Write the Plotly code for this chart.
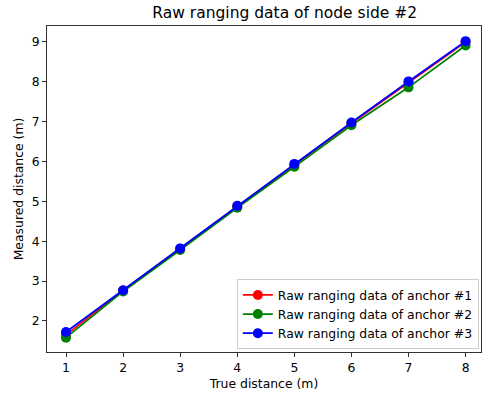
import plotly.graph_objects as go

true_dist = [1, 2, 3, 4, 5, 6, 7, 8]
anchor1 = [1.65, 2.76, 3.81, 4.87, 5.92, 6.96, 7.98, 9.00]
anchor2 = [1.58, 2.74, 3.78, 4.84, 5.87, 6.91, 7.86, 8.91]
anchor3 = [1.72, 2.77, 3.82, 4.89, 5.94, 6.98, 8.01, 9.02]
err1 = [0.02] * 8
err2 = [0.02] * 8
err3 = [0.02] * 8

series = [
    ("Raw ranging data of anchor #1", anchor1, err1, "#ff0000", "#0000ff"),
    ("Raw ranging data of anchor #2", anchor2, err2, "#008000", "#000000"),
    ("Raw ranging data of anchor #3", anchor3, err3, "#0000ff", "#ff0000"),
]

fig = go.Figure()
for name, vals, err, col, ecol in series:
    fig.add_trace(go.Scatter(
        x=true_dist, y=vals, name=name, mode="lines+markers",
        line=dict(color=col, width=1.8),
        marker=dict(color=col, size=10),
        error_y=dict(type="data", array=err, color=ecol, thickness=1.5, width=3),
    ))

font = "DejaVu Sans"
fs = 12.4
axis_common = dict(
    showgrid=False, zeroline=False, showline=True, linecolor="#333333", linewidth=1,
    mirror=True, ticks="outside", ticklen=4, tickcolor="#333333", automargin=False,
    tickfont=dict(family=font, size=fs, color="black"),
)
fig.update_layout(
    width=482, height=396,
    margin=dict(l=47, r=1, t=26, b=44, autoexpand=False),
    paper_bgcolor="white", plot_bgcolor="white",
    title=dict(text="Raw ranging data of node side #2", x=(47 + 481) / 2 / 482, xanchor="center",
               xref="paper", y=1 - 13 / 396, yanchor="middle",
               font=dict(family=font, size=15.5, color="black")),
    xaxis=dict(range=[0.667, 8.27], tickvals=true_dist,
               title=dict(text="True distance (m)", font=dict(family=font, size=fs, color="black"), standoff=5),
               **axis_common),
    yaxis=dict(range=[1.22, 9.40], tickvals=[2, 3, 4, 5, 6, 7, 8, 9],
               title=dict(text="Measured distance (m)", font=dict(family=font, size=fs, color="black"), standoff=5),
               **axis_common),
    legend=dict(x=0.995, y=0.008, xanchor="right", yanchor="bottom",
                bgcolor="rgba(255,255,255,0.8)", bordercolor="#cccccc", borderwidth=1,
                font=dict(family=font, size=fs, color="black"),
                itemwidth=30, tracegroupgap=0),
    showlegend=True,
)

fig.write_html("out.html", config={"displayModeBar": False},
               post_script="document.body.style.margin='0';document.body.style.overflow='hidden';")
